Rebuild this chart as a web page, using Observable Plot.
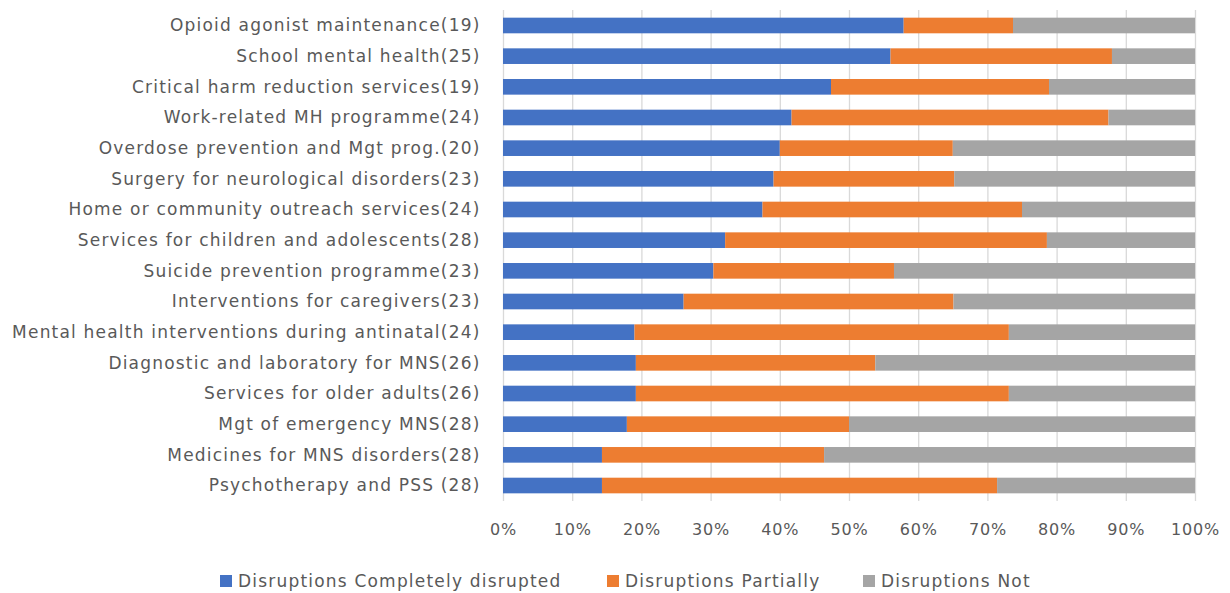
<!DOCTYPE html>
<html>
<head>
<meta charset="utf-8">
<script src="https://cdn.jsdelivr.net/npm/d3@7"></script>
<script src="https://cdn.jsdelivr.net/npm/@observablehq/plot@0.6"></script>
<style>
  body { margin: 0; background: #fff; font-family: "DejaVu Sans", sans-serif; }
  #chart { width: 1230px; position: relative; }
  .legend { position: relative; height: 38px; font-size: 17px; color: #595959; letter-spacing: 1.2px; }
  .legend span.item { position: absolute; top: 16px; display: flex; align-items: center; white-space: nowrap; }
  .legend span.sw { width: 12px; height: 12px; display: inline-block; margin-right: 6px; }
</style>
</head>
<body>
<div id="chart"></div>
<script>
const categories = [
  "Opioid agonist maintenance(19)",
  "School mental health(25)",
  "Critical harm reduction services(19)",
  "Work-related MH programme(24)",
  "Overdose prevention and Mgt prog.(20)",
  "Surgery for neurological disorders(23)",
  "Home or community outreach services(24)",
  "Services for children and adolescents(28)",
  "Suicide prevention programme(23)",
  "Interventions for caregivers(23)",
  "Mental health interventions during antinatal(24)",
  "Diagnostic and laboratory for MNS(26)",
  "Services for older adults(26)",
  "Mgt of emergency MNS(28)",
  "Medicines for MNS disorders(28)",
  "Psychotherapy and PSS (28)"
];
const seriesNames = ["Disruptions Completely disrupted", "Disruptions Partially", "Disruptions Not"];
const completely = [57.9, 56.0, 47.4, 41.7, 40.0, 39.1, 37.5, 32.1, 30.4, 26.1, 19.0, 19.2, 19.2, 17.9, 14.3, 14.3];
const partially  = [15.8, 32.0, 31.5, 45.8, 25.0, 26.1, 37.5, 46.5, 26.1, 39.0, 54.1, 34.6, 53.9, 32.1, 32.1, 57.1];
const notDisrupted = categories.map((c, i) => +(100 - completely[i] - partially[i]).toFixed(1));
const xTicks = [0, 10, 20, 30, 40, 50, 60, 70, 80, 90, 100];
const colors = ["#4472C4", "#ED7D31", "#A5A5A5"];

const rows = [];
categories.forEach((c, i) => {
  rows.push({cat: c, series: seriesNames[0], value: completely[i]});
  rows.push({cat: c, series: seriesNames[1], value: partially[i]});
  rows.push({cat: c, series: seriesNames[2], value: notDisrupted[i]});
});

const chart = Plot.plot({
  width: 1230,
  height: 555,
  marginLeft: 503,
  marginRight: 35,
  marginTop: 10,
  marginBottom: 54,
  style: {fontFamily: "DejaVu Sans, sans-serif", background: "#fff"},
  x: {domain: [0, 100], ticks: xTicks, tickFormat: d => d + "%", tickSize: 0, tickPadding: 22, label: null},
  y: {domain: categories, paddingInner: 0.49, paddingOuter: 0.25, round: false, tickSize: 0, tickPadding: 23, label: null},
  color: {domain: seriesNames, range: colors},
  marks: [
    Plot.ruleX(xTicks, {stroke: "#d9d9d9", strokeWidth: 1.3}),
    Plot.barX(rows, Plot.stackX({x: "value", y: "cat", fill: "series", order: seriesNames})),
  ]
});
chart.querySelectorAll("g[aria-label='y-axis tick label']").forEach(el => {
  el.setAttribute("font-size", "17");
  el.setAttribute("fill", "#595959");
  el.setAttribute("letter-spacing", "1.2");
});
chart.querySelectorAll("g[aria-label='x-axis tick label']").forEach(el => {
  el.setAttribute("font-size", "16");
  el.setAttribute("fill", "#595959");
  el.setAttribute("letter-spacing", "0.8");
});
document.getElementById("chart").appendChild(chart);

const legendLeft = [220, 607, 863];
const legend = document.createElement("div");
legend.className = "legend";
seriesNames.forEach((s, i) => {
  const item = document.createElement("span");
  item.className = "item";
  item.style.left = legendLeft[i] + "px";
  const sw = document.createElement("span");
  sw.className = "sw";
  sw.style.background = colors[i];
  item.appendChild(sw);
  item.appendChild(document.createTextNode(s));
  legend.appendChild(item);
});
document.getElementById("chart").appendChild(legend);
</script>
</body>
</html>
